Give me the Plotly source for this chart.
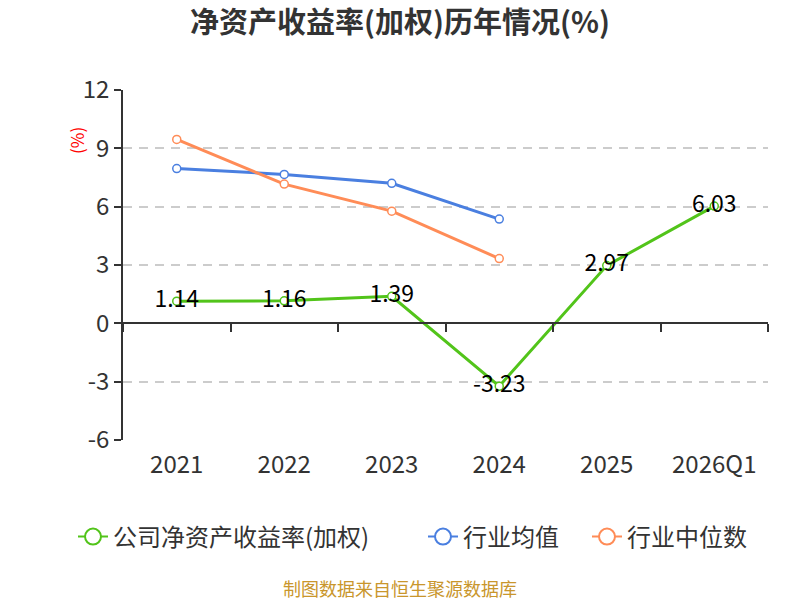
import plotly.graph_objects as go

years = ["2021", "2022", "2023", "2024", "2025", "2026Q1"]
company_roe = [1.14, 1.16, 1.39, -3.23, 2.97, 6.03]
industry_avg = [7.96, 7.66, 7.20, 5.36]
industry_median = [9.46, 7.16, 5.77, 3.33]
y_ticks = [-6, -3, 0, 3, 6, 9, 12]

font_cjk = "Noto Sans CJK SC"
green = "#52c41a"
blue = "#4a7fe0"
orange = "#ff8c57"

fig = go.Figure()

series = [
    ("公司净资产收益率(加权)", company_roe, green),
    ("行业均值", industry_avg, blue),
    ("行业中位数", industry_median, orange),
]
legend_ids = ["legend", "legend2", "legend3"]
legend_text_x = [113, 463, 627]  # where each legend text starts, px

# legend entries only (bigger hollow circles than the plotted markers)
for (name, vals, color), lid in zip(series, legend_ids):
    fig.add_trace(go.Scatter(
        x=[None], y=[None],
        mode="lines+markers",
        name=name,
        line=dict(color=color, width=2),
        marker=dict(size=16, color="white", line=dict(color=color, width=2)),
        showlegend=True,
        legend=lid,
    ))

# industry lines first so the company labels sit on top
for name, vals, color in series[1:]:
    fig.add_trace(go.Scatter(
        x=years[:len(vals)], y=vals,
        mode="lines+markers",
        name=name,
        line=dict(color=color, width=3),
        marker=dict(size=8, color="white", line=dict(color=color, width=1.5)),
        showlegend=False,
    ))

fig.add_trace(go.Scatter(
    x=years, y=company_roe,
    mode="lines+markers+text",
    name=series[0][0],
    line=dict(color=green, width=3),
    marker=dict(size=8, color="white", line=dict(color=green, width=1.5)),
    text=[f"{v:.2f}" for v in company_roe],
    textposition="middle center",
    textfont=dict(size=23, color="#000000", family=font_cjk),
    showlegend=False,
))

legend_style = dict(
    orientation="h",
    xref="container", yref="container",
    xanchor="left", yanchor="middle",
    y=1 - 537 / 600,
    font=dict(size=24, color="#333333", family=font_cjk),
    bgcolor="rgba(0,0,0,0)",
)

fig.update_layout(
    width=800, height=600,
    margin=dict(l=123, r=32, t=90, b=160, autoexpand=False),
    paper_bgcolor="white",
    plot_bgcolor="white",
    font=dict(family=font_cjk, color="#333333"),
    title=dict(
        text="<b>净资产收益率(加权)历年情况(%)</b>",
        x=0.5, xanchor="center",
        y=1 - 23 / 600, yanchor="middle", yref="container",
        font=dict(size=29, color="#333333", family=font_cjk),
    ),
    showlegend=True,
    legend=dict(legend_style, x=(legend_text_x[0] - 40) / 800),
    legend2=dict(legend_style, x=(legend_text_x[1] - 40) / 800),
    legend3=dict(legend_style, x=(legend_text_x[2] - 40) / 800),
    xaxis=dict(
        type="category",
        categoryorder="array", categoryarray=years,
        range=[-0.5, len(years) - 0.5],
        anchor="free", position=1 / 3,
        showline=True, linecolor="#333333", linewidth=1.5,
        ticks="outside", tickson="boundaries", ticklen=8,
        tickcolor="#333333", tickwidth=1.5,
        showgrid=False, zeroline=False,
        ticklabelstandoff=120,
        tickfont=dict(size=24, color="#333333"),
    ),
    yaxis=dict(
        range=[-6, 12],
        tickvals=y_ticks, ticktext=[str(v) for v in y_ticks],
        domain=[0, 1],
        showline=True, linecolor="#333333", linewidth=1.5,
        ticks="outside", ticklen=7, tickcolor="#333333", tickwidth=1.5,
        showgrid=True, gridcolor="#cccccc", griddash="9px,7px", gridwidth=1.5,
        zeroline=False,
        tickfont=dict(size=24, color="#333333"),
    ),
)

fig.add_annotation(
    text="(%)", textangle=-90,
    xref="paper", yref="paper",
    x=(62 - 123) / 645, y=(440 - 125) / 350,
    showarrow=False,
    font=dict(size=17, color="#ff0000"),
)

fig.add_annotation(
    text="制图数据来自恒生聚源数据库",
    xref="paper", yref="paper",
    x=(400 - 123) / 645, y=(440 - 588) / 350,
    xanchor="center", yanchor="middle",
    showarrow=False,
    font=dict(size=18, color="#c9962c"),
)

fig.write_html(
    "out.html",
    config={"displayModeBar": False},
    post_script="document.body.style.margin='0';",
)
